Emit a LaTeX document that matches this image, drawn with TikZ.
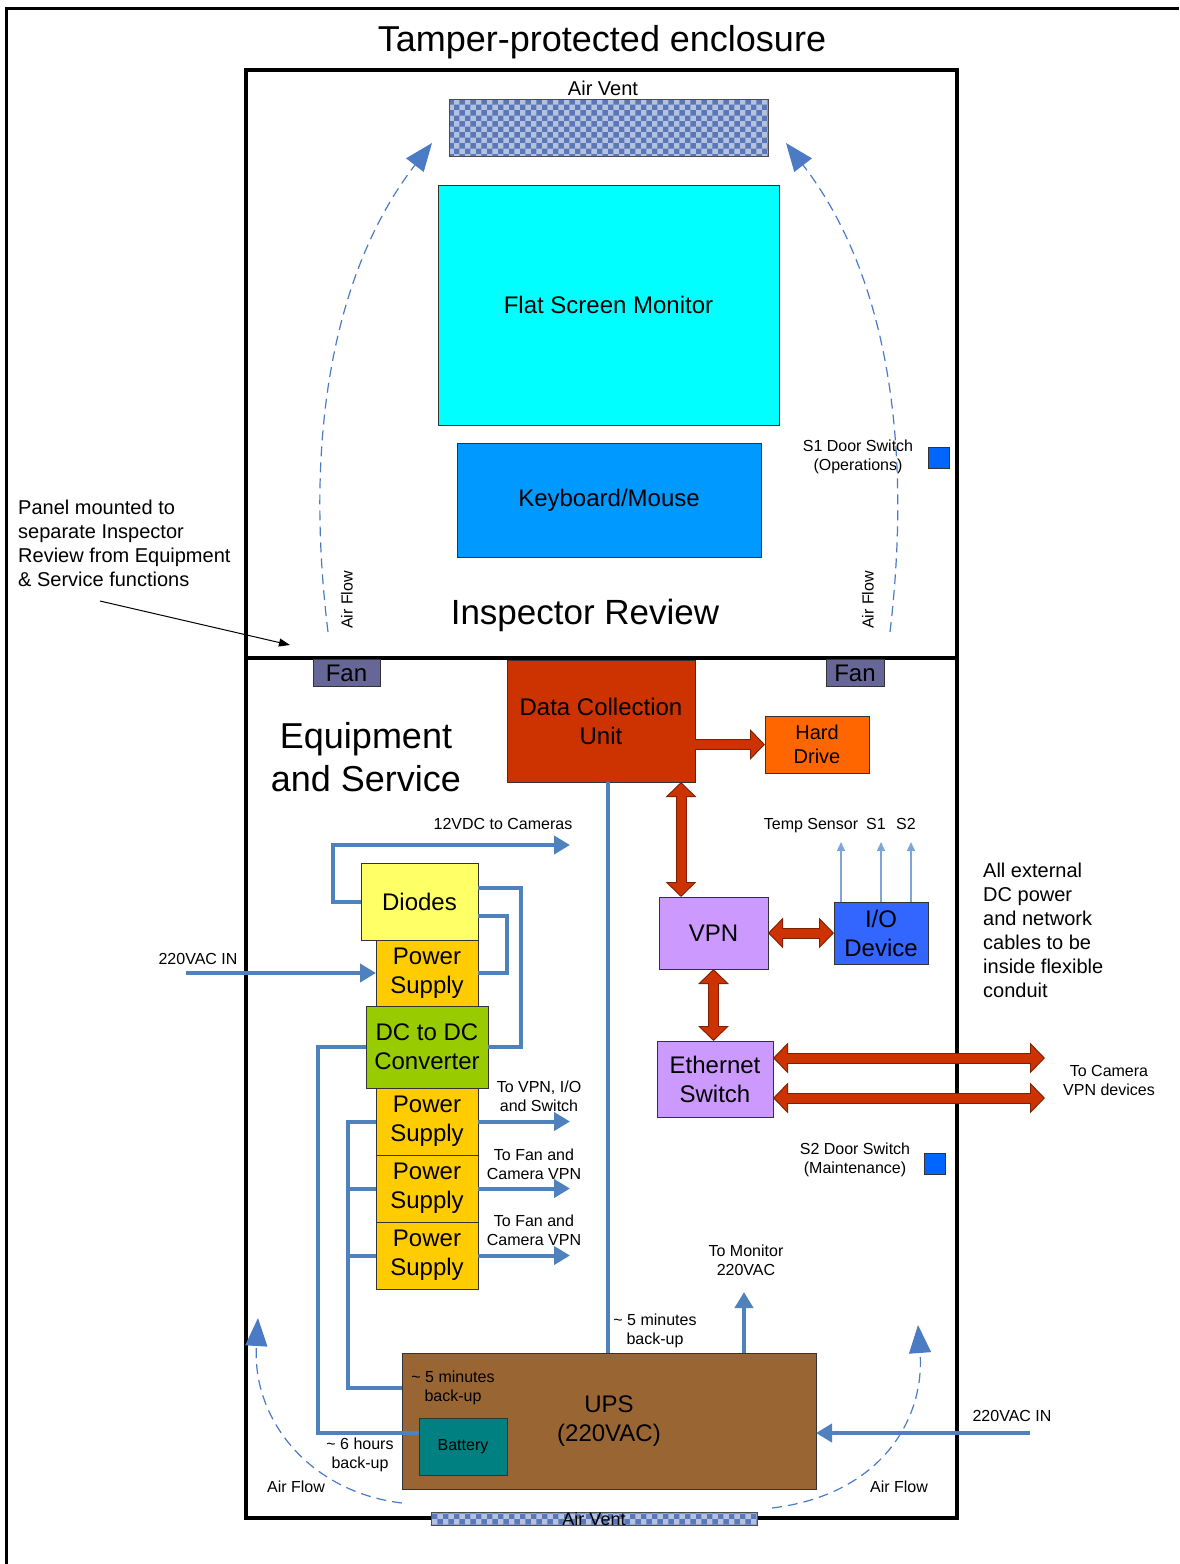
\documentclass[tikz,border=0pt]{standalone}
\usepackage{fontspec}
\setmainfont{Liberation Sans}
\usetikzlibrary{arrows.meta,calc,patterns,positioning}

\definecolor{monitorcyan}{HTML}{00FFFF}
\definecolor{kbdblue}{HTML}{0099FF}
\definecolor{switchblue}{HTML}{0066FF}
\definecolor{fangray}{HTML}{666699}
\definecolor{dcured}{HTML}{CC3300}
\definecolor{fatedge}{HTML}{7F1F00}
\definecolor{hddorange}{HTML}{FF6600}
\definecolor{vpnlilac}{HTML}{CC99FF}
\definecolor{ioblue}{HTML}{3366FF}
\definecolor{diodeyellow}{HTML}{FFFF66}
\definecolor{psyellow}{HTML}{FFCC00}
\definecolor{dcgreen}{HTML}{99CC00}
\definecolor{upsbrown}{HTML}{996633}
\definecolor{battteal}{HTML}{008080}
\definecolor{wireblue}{HTML}{4F81BD}
\definecolor{sensorblue}{HTML}{7DA5D8}
\definecolor{flowblue}{HTML}{4A7BC4}
\definecolor{ventblue}{HTML}{5A78B8}
\definecolor{ventlight}{HTML}{B4C2E0}

\newcommand{\smallsz}{\fontsize{16}{19}\selectfont}
\newcommand{\ventsz}{\fontsize{18}{21}\selectfont}
\newcommand{\mediumsz}{\fontsize{20}{24}\selectfont}
\newcommand{\boxsz}{\fontsize{24}{29}\selectfont}
\newcommand{\inspsz}{\fontsize{35}{42}\selectfont}
\newcommand{\hugesz}{\fontsize{36}{43}\selectfont}

\begin{document}
\begin{tikzpicture}[x=1pt, y=-1pt,
                    font=\boxsz]
    \tikzstyle{box}=[rectangle,
                    draw=black!80,
                    line width=0.8pt,
                    inner sep=0pt,
                    outer sep=0pt,
                    align=center,
                    font=\boxsz]
    \tikzstyle{vent}=[rectangle,
                    draw=black!70,
                    line width=0.8pt,
                    inner sep=0pt,
                    preaction={fill=ventlight},
                    pattern=checkerboard,
                    pattern color=ventblue]
    \tikzstyle{lbl}=[inner sep=0pt, align=center, font=\smallsz]
    \tikzstyle{pwr}=[draw=wireblue, line width=4pt]
    \tikzstyle{pwrto}=[pwr, -{Triangle[length=16pt,width=18pt]}]
    \tikzstyle{sensor}=[draw=sensorblue, line width=1.5pt, -{Triangle[length=9pt,width=8pt]}]
    \tikzstyle{airflow}=[draw=flowblue, line width=1.2pt, dash pattern=on 10pt off 6pt,
                    -{Triangle[length=28pt,width=22pt]}]
    \tikzstyle{fatout}=[draw=fatedge, line width=11pt, -{Triangle[length=15pt,width=30pt]}]
    \tikzstyle{fatin}=[draw=dcured, line width=9pt, -{Triangle[length=12.5pt,width=25pt]},
                    shorten >=1.5pt]
    \tikzstyle{fatoutboth}=[fatout, {Triangle[length=15pt,width=30pt]}-{Triangle[length=15pt,width=30pt]}]
    \tikzstyle{fatinboth}=[fatin, {Triangle[length=12.5pt,width=25pt]}-{Triangle[length=12.5pt,width=25pt]},
                    shorten <=1.5pt]

    \useasboundingbox (0,0) rectangle (1179,1564);

    % enclosure
    \draw[line width=3pt] (6,1564) -- (6,8) -- (1179,8);
    \draw[line width=4pt] (246,70) rectangle (957,1518);
    \draw[line width=4pt] (246,658) -- (957,658);
    \node[font=\hugesz] (title) at (602,42) {Tamper-protected enclosure};

    % inspector review
    \node[lbl, font=\mediumsz] (venttoptxt) at (603,88) {Air Vent};
    \node[vent, minimum width=319, minimum height=57] (venttop) at (608.5,127.5) {};
    \node[box, fill=monitorcyan, minimum width=341, minimum height=240] (monitor) at (608.5,305) {Flat Screen Monitor};
    \node[box, fill=kbdblue, minimum width=304, minimum height=114] (keyboard) at (609,500) {Keyboard/Mouse};
    \node[box, fill=switchblue, minimum size=21] (s1sw) at (938.5,457.5) {};
    \node[lbl] (s1txt) at (858,457) {S1 Door Switch\\(Operations)};

    \draw[airflow] (328,632) .. controls (302,420) and (340,262) .. (432,143);
    \draw[airflow] (890,632) .. controls (915,420) and (878,262) .. (786,143);
    \node[lbl, rotate=90] (flowtl) at (347,600) {Air Flow};
    \node[lbl, rotate=90] (flowtr) at (868,600) {Air Flow};
    \node[font=\inspsz, inner sep=0pt] (inspector) at (585,615) {Inspector Review};

    \node[lbl, font=\mediumsz, align=left, anchor=west] (panel) at (18,543)
        {Panel mounted to\\separate Inspector\\Review from Equipment\\\& Service functions};
    \coordinate (panelfoot) at (100,601);
    \coordinate (panelhit) at (290,645);
    \draw[line width=1pt, -{Triangle[length=11pt,width=8pt]}] (panelfoot) -- (panelhit);

    % equipment and service
    \node[box, fill=fangray, minimum width=67, minimum height=27] (fanl) at (346.5,673) {Fan};
    \node[box, fill=fangray, minimum width=58, minimum height=27] (fanr) at (855,673) {Fan};
    \node[box, fill=dcured, minimum width=188, minimum height=122] (dcu) at (601,721) {Data Collection\\Unit};
    \node[box, fill=hddorange, font=\mediumsz, minimum width=104, minimum height=57] (hdd) at (817,744.5) {Hard\\Drive};
    \node[font=\hugesz, align=center, inner sep=0pt] (equip) at (366,757) {Equipment\\and Service};

    \node[box, fill=vpnlilac, minimum width=109, minimum height=72] (vpn) at (713.5,933) {VPN};
    \node[box, fill=ioblue, minimum width=94, minimum height=62] (io) at (881,933) {I/O\\Device};
    \node[box, fill=vpnlilac, minimum width=116, minimum height=76] (eth) at (715,1079) {Ethernet\\Switch};
    \node[box, fill=switchblue, minimum size=21] (s2sw) at (934.5,1163.5) {};
    \node[lbl] (s2txt) at (855,1160) {S2 Door Switch\\(Maintenance)};

    \coordinate (tsens) at (841,842);
    \coordinate (s1in) at (881,842);
    \coordinate (s2in) at (911,842);
    \draw[sensor] (io.north -| tsens) -- (tsens);
    \draw[sensor] (io.north -| s1in) -- (s1in);
    \draw[sensor] (io.north -| s2in) -- (s2in);
    \node[lbl] (tsenstxt) at (811,826) {Temp Sensor};
    \node[lbl] (s1intxt) at (876,824) {S1};
    \node[lbl] (s2intxt) at (906,824) {S2};

    \node[lbl, font=\mediumsz, align=left, anchor=west] (conduit) at (983,930)
        {All external\\DC power\\and network\\cables to be\\inside flexible\\conduit};
    \node[lbl] (camtxt) at (1109,1080) {To Camera\\VPN devices};

    % power chain
    \node[box, fill=diodeyellow, minimum width=117, minimum height=77] (diodes) at (419.5,901.5) {Diodes};
    \node[box, fill=psyellow, minimum width=102, minimum height=66] (ps1) at (427,973) {Power\\Supply};
    \node[box, fill=dcgreen, minimum width=122, minimum height=82, below=0pt of ps1] (dcdc) {DC to DC\\Converter};
    \node[box, fill=psyellow, minimum width=102, minimum height=67, below=0pt of dcdc] (ps2) {Power\\Supply};
    \node[box, fill=psyellow, minimum width=102, minimum height=67, below=0pt of ps2] (ps3) {Power\\Supply};
    \node[box, fill=psyellow, minimum width=102, minimum height=67, below=0pt of ps3] (ps4) {Power\\Supply};

    \node[box, fill=upsbrown, minimum width=414, minimum height=136] (ups) at (609,1421) {UPS\\(220VAC)};
    \node[box, fill=battteal, font=\smallsz, minimum width=88, minimum height=57] (battery) at (463,1446.5) {Battery};

    \node[lbl] (cam12txt) at (503,824) {12VDC to Cameras};
    \node[lbl] (acintxt) at (198,959) {220VAC IN};
    \node[lbl] (ps2txt) at (539,1096) {To VPN, I/O\\and Switch};
    \node[lbl] (ps3txt) at (534,1164) {To Fan and\\Camera VPN};
    \node[lbl] (ps4txt) at (534,1230) {To Fan and\\Camera VPN};
    \node[lbl] (montxt) at (746,1260) {To Monitor\\220VAC};
    \node[lbl] (bustxt) at (655,1331) {\textasciitilde{} 5 minutes\\back-up};
    \node[lbl] (upsbacktxt) at (453,1388) {\textasciitilde{} 5 minutes\\back-up};
    \node[lbl] (battbacktxt) at (360,1455) {\textasciitilde{} 6 hours\\back-up};
    \node[lbl] (acin2txt) at (1012,1416) {220VAC IN};

    % wiring
    \coordinate (cam12) at (570,845);
    \coordinate (acin) at (186,973);
    \coordinate (psout) at (570,0);
    \coordinate (bus) at (608,0);
    \coordinate (monfeed) at (744,1292);
    \coordinate (acin2) at (1030,1433);

    \draw[pwrto] (diodes.west) -- ++(-28,0) |- (cam12);
    \draw[pwr] ($(diodes.east)+(0,-14)$) -| ($(dcdc.east)+(33,0)$) -- (dcdc.east);
    \draw[pwr] ($(diodes.east)+(0,14)$) -| ($(ps1.east)+(29,0)$) -- (ps1.east);
    \draw[pwrto] (acin) -- (ps1.west);
    \draw[pwr] (dcdc.west) -- ++(-48,0) |- ($(battery.north west)+(0,15)$);
    \draw[pwr] (ps2.west) -- ++(-28,0) |- ($(ups.north west)+(0,35)$);
    \draw[pwr] (ps3.west) -- ++(-28,0);
    \draw[pwr] (ps4.west) -- ++(-28,0);
    \draw[pwrto] (ps2.east) -- (ps2.east -| psout);
    \draw[pwrto] (ps3.east) -- (ps3.east -| psout);
    \draw[pwrto] (ps4.east) -- (ps4.east -| psout);
    \draw[pwr] (dcu.south -| bus) -- (ups.north -| bus);
    \draw[pwrto] (ups.north -| monfeed) -- (monfeed);
    \draw[pwrto] (acin2) -- (ups.east |- acin2);

    % data links
    \coordinate (dcuvpn) at (681,0);
    \coordinate (camvpn1) at (1045,1058);
    \coordinate (camvpn2) at (1045,1098);
    \draw[fatout] (dcu.east |- hdd) -- (hdd.west);
    \draw[fatin] (dcu.east |- hdd) -- (hdd.west);
    \foreach \s in {fatoutboth,fatinboth} {
        \draw[\s] (dcu.south -| dcuvpn) -- (vpn.north -| dcuvpn);
        \draw[\s] (vpn.east) -- (io.west);
        \draw[\s] (vpn.south) -- (vpn.south |- eth.north);
        \draw[\s] (eth.east |- camvpn1) -- (camvpn1);
        \draw[\s] (eth.east |- camvpn2) -- (camvpn2);
    }

    % bottom air flow
    \draw[airflow] (402,1503) .. controls (310,1492) and (252,1420) .. (258,1318);
    \draw[airflow] (772,1508) .. controls (880,1495) and (925,1420) .. (918,1325);
    \node[lbl] (flowbl) at (296,1487) {Air Flow};
    \node[lbl] (flowbr) at (899,1487) {Air Flow};
    \node[vent, minimum width=326, minimum height=13] (ventbot) at (594,1518.5) {};
    \node[lbl, font=\ventsz] (ventbottxt) at (594,1519) {Air Vent};
\end{tikzpicture}
\end{document}
